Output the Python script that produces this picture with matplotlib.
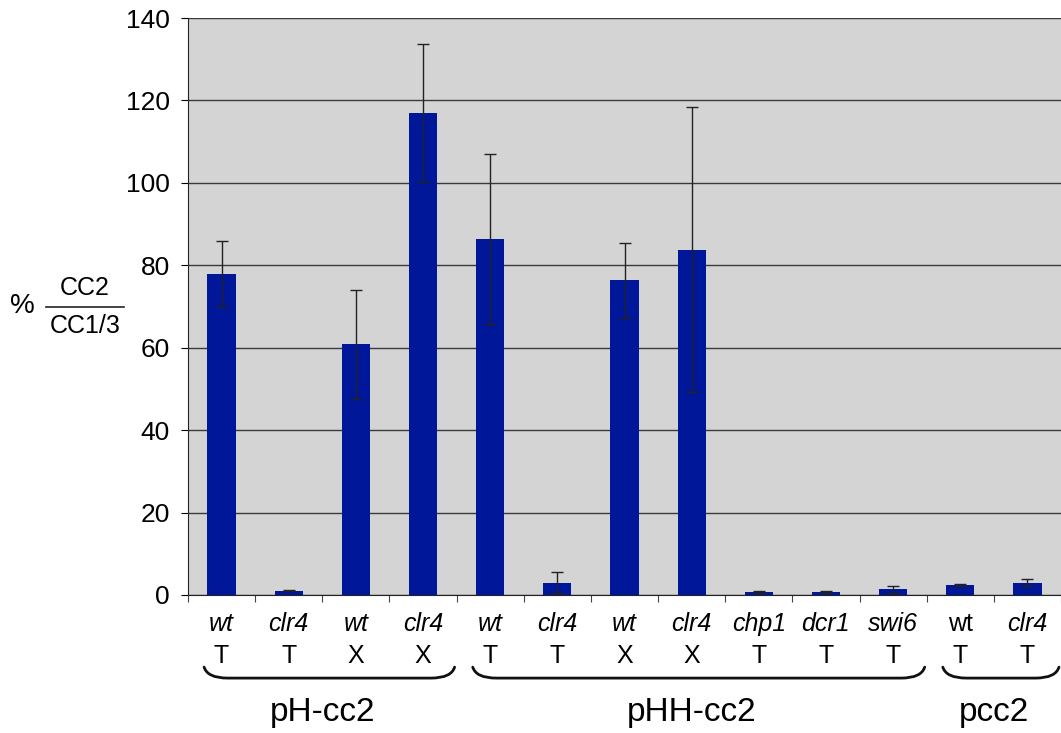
import numpy as np
import matplotlib.pyplot as plt
from matplotlib.path import Path
from matplotlib.patches import PathPatch
import matplotlib.transforms as mtransforms

plt.rcParams['font.family'] = ['Liberation Sans', 'DejaVu Sans']

# data
genotype = ['wt', 'clr4', 'wt', 'clr4', 'wt', 'clr4', 'wt', 'clr4', 'chp1', 'dcr1', 'swi6', 'wt', 'clr4']
italic = [True, True, True, True, True, True, True, True, True, True, True, False, True]
condition = ['T', 'T', 'X', 'X', 'T', 'T', 'X', 'X', 'T', 'T', 'T', 'T', 'T']
values = [77.8, 1.0, 60.8, 116.9, 86.3, 3.0, 76.4, 83.8, 0.8, 0.8, 1.4, 2.4, 3.0]
errors = [8.0, 0.1, 13.2, 16.7, 20.6, 2.5, 9.1, 34.5, 0.2, 0.2, 0.9, 0.2, 0.8]
groups = ['pH-cc2', 'pHH-cc2', 'pcc2']
group_span = [(0, 3), (4, 10), (11, 12)]

fig = plt.figure(figsize=(10.61, 7.33), dpi=100)
ax = fig.add_axes([188 / 1061, 138 / 733, 873 / 1061, 577 / 733])
ax.set_facecolor('#d4d4d4')

x = np.arange(len(values))
ax.bar(x, values, width=0.42, color='#00179a', zorder=3)
ax.errorbar(x, values, yerr=errors, fmt='none', ecolor='#222222', elinewidth=1,
            capsize=4, capthick=1, zorder=4)

ax.set_xlim(-0.5, len(values) - 0.5)
ax.set_ylim(0, 140)
ax.set_yticks(np.arange(0, 141, 20))
ax.yaxis.grid(True, color='#3a3a3a', linewidth=1, zorder=1)
ax.set_axisbelow(True)
ax.tick_params(axis='y', labelsize=19, length=5, direction='out', pad=8)
ax.set_xticks(np.arange(len(values) + 1) - 0.5)
ax.set_xticklabels([])
ax.tick_params(axis='x', length=5, direction='out', color='#444444')
for s in ['top', 'right']:
    ax.spines[s].set_visible(False)
ax.spines['left'].set_color('#222222')
ax.spines['bottom'].set_color('#222222')

trans = mtransforms.blended_transform_factory(ax.transData, ax.transAxes)
for i in x:
    ax.text(i, -0.050, genotype[i], transform=trans, ha='center', va='center',
            fontsize=18, style='italic' if italic[i] else 'normal')
    ax.text(i, -0.105, condition[i], transform=trans, ha='center', va='center', fontsize=18)

# braces under each group
yt, yb = -0.125, -0.144
for name, (a, b) in zip(groups, group_span):
    x0 = a - 0.5 + 0.24
    x1 = b + 0.5 - 0.03
    verts = [(x0, yt), (x0 + 0.05, yb), (x0 + 0.35, yb), (x1 - 0.35, yb),
             (x1 - 0.05, yb), (x1, yt)]
    codes = [Path.MOVETO, Path.CURVE3, Path.CURVE3, Path.LINETO, Path.CURVE3, Path.CURVE3]
    ax.add_patch(PathPatch(Path(verts, codes), transform=trans, fill=False,
                           lw=2, color='#111111', clip_on=False, capstyle='round'))
    ax.text((a + b) / 2, -0.203, name, transform=trans, ha='center', va='center', fontsize=24)

# y label as a fraction
fig.text(22 / 1061, 1 - 306 / 733, '%', fontsize=20, ha='center', va='center')
fig.text(85 / 1061, 1 - 288 / 733, 'CC2', fontsize=18, ha='center', va='center')
fig.text(85 / 1061, 1 - 326 / 733, 'CC1/3', fontsize=18, ha='center', va='center')
fig.add_artist(plt.Line2D([46 / 1061, 124 / 1061], [1 - 307 / 733] * 2, color='#222222', lw=1.2))

fig.savefig('out.png', dpi=100)
